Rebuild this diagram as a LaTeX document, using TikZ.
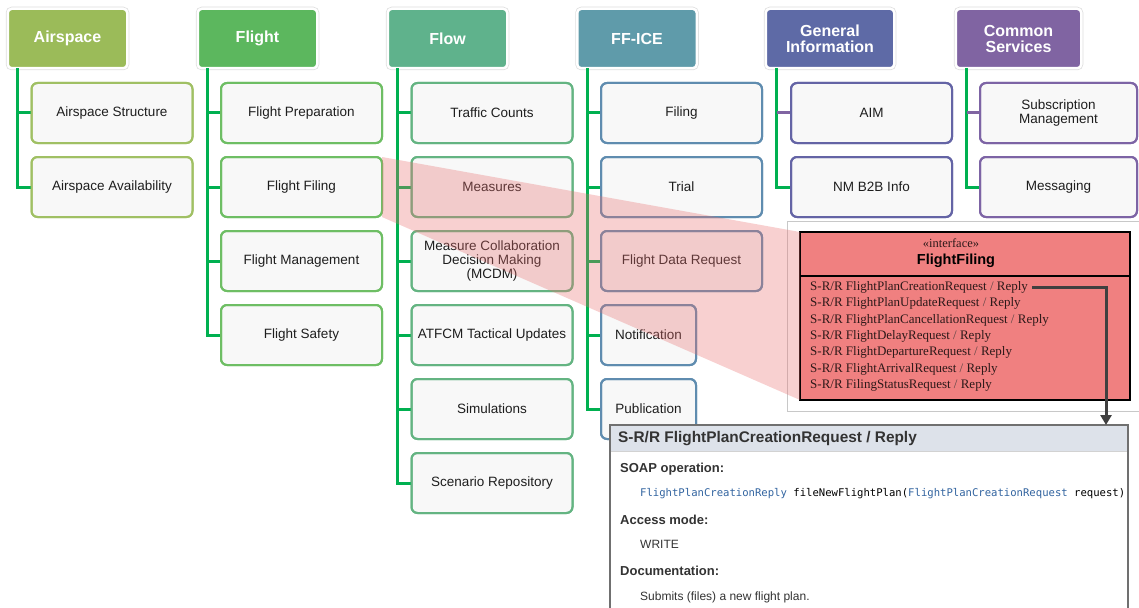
\documentclass[tikz,border=0pt]{standalone}
\usepackage{fontspec}
\setmainfont{Liberation Sans}
\newfontfamily\timesface{Liberation Serif}
\setmonofont{DejaVu Sans Mono}
\usetikzlibrary{arrows.meta}

% header fills
\definecolor{cAir}{RGB}{155,187,89}
\definecolor{cFlt}{RGB}{92,183,94}
\definecolor{cFlw}{RGB}{95,178,140}
\definecolor{cFfi}{RGB}{95,155,170}
\definecolor{cGen}{RGB}{94,106,166}
\definecolor{cCom}{RGB}{128,100,162}
% child borders
\definecolor{bAir}{RGB}{160,192,100}
\definecolor{bFlt}{RGB}{110,190,100}
\definecolor{bFlw}{RGB}{100,180,130}
\definecolor{bFfi}{RGB}{95,140,175}
\definecolor{bGen}{RGB}{100,100,165}
\definecolor{bCom}{RGB}{125,100,165}
\definecolor{boxfill}{RGB}{248,248,248}
\definecolor{haloc}{RGB}{222,222,222}
\definecolor{lineg}{RGB}{0,176,80}
\definecolor{linep}{RGB}{128,100,162}
\definecolor{txt}{RGB}{30,30,30}
\definecolor{pinkov}{RGB}{232,110,110}
\definecolor{ifacefill}{RGB}{240,128,128}
\definecolor{optext}{RGB}{45,25,25}
\definecolor{slashc}{RGB}{95,70,70}
\definecolor{framec}{RGB}{200,200,200}
\definecolor{panelc}{RGB}{112,112,112}
\definecolor{headc}{RGB}{221,226,234}
\definecolor{ptext}{RGB}{51,51,51}
\definecolor{codeblue}{RGB}{50,100,160}
\definecolor{arrowc}{RGB}{64,64,64}

\begin{document}
\begin{tikzpicture}[x=1pt,y=-1pt,
  hdr/.style={fill=#1, text=white, font=\fontsize{16}{16}\selectfont\bfseries,
    align=center, rounded corners=4pt, minimum width=119.5pt, minimum height=59.5pt,
    inner sep=0pt, outer sep=0pt, draw=white, line width=2.5pt,
    preaction={draw=haloc, line width=4pt}},
  child/.style={draw=#1, fill=boxfill, line width=2pt, rounded corners=6pt,
    minimum width=161pt, minimum height=60pt, inner sep=2pt, outer sep=0pt,
    align=center, font=\fontsize{13.5}{14}\selectfont, text=txt},
  conn/.style={draw=lineg, line width=3pt},
  connp/.style={draw=linep, line width=3pt},
  opline/.style={anchor=west, inner sep=0pt, font=\timesface\fontsize{13}{13}\selectfont, text=optext},
  plabel/.style={anchor=west, inner sep=0pt, text=ptext, font=\fontsize{13}{13}\selectfont\bfseries},
  pbody/.style={anchor=west, inner sep=0pt, text=ptext, font=\fontsize{12}{12}\selectfont},
]
\useasboundingbox (0,0) rectangle (1139,607);
\clip (0,0) rectangle (1139,607);

% ---------- column headers ----------
\node[hdr=cAir] (air) at (67.5,38.5) {Airspace};
\node[hdr=cFlt] (flt) at (257.5,38.5) {Flight};
\node[hdr=cFlw] (flw) at (447.5,38.5) {Flow};
\node[hdr=cFfi] (ffi) at (637,38.5) {FF-ICE};
\node[hdr=cGen, minimum width=128.5pt] (gen) at (830,38.5) {General\\Information};
\node[hdr=cCom, minimum width=125.5pt] (com) at (1018.5,38.5) {Common\\Services};

% ---------- tree connectors ----------
\coordinate (airx) at ([xshift=10pt]air.south west);
\coordinate (fltx) at ([xshift=10pt]flt.south west);
\coordinate (flwx) at ([xshift=10pt]flw.south west);
\coordinate (ffix) at ([xshift=10pt]ffi.south west);
\coordinate (genx) at ([xshift=11pt]gen.south west);
\coordinate (comx) at ([xshift=11pt]com.south west);

% child boxes
\node[child=bAir] (air1) at (112,113) {Airspace Structure};
\node[child=bAir] (air2) at (112,187) {Airspace Availability};

\node[child=bFlt] (fl1) at (301.5,113) {Flight Preparation};
\node[child=bFlt] (fl2) at (301.5,187) {Flight Filing};
\node[child=bFlt] (fl3) at (301.5,261) {Flight Management};
\node[child=bFlt] (fl4) at (301.5,335) {Flight Safety};

\node[child=bFlw] (fw1) at (492,113) {Traffic Counts};
\node[child=bFlw] (fw2) at (492,187) {Measures};
\node[child=bFlw] (fw3) at (492,261) {Measure Collaboration\\Decision Making\\(MCDM)};
\node[child=bFlw] (fw4) at (492,335) {ATFCM Tactical Updates};
\node[child=bFlw] (fw5) at (492,409) {Simulations};
\node[child=bFlw] (fw6) at (492,483) {Scenario Repository};

\node[child=bFfi] (ff1) at (681.5,113) {Filing};
\node[child=bFfi] (ff2) at (681.5,187) {Trial};
\node[child=bFfi] (ff3) at (681.5,261) {Flight Data Request};
\node[child=bFfi, minimum width=95pt] (ff4) at (648.5,335) {Notification};
\node[child=bFfi, minimum width=95pt] (ff5) at (648.5,409) {Publication};

\node[child=bGen] (gi1) at (871.5,113) {AIM};
\node[child=bGen] (gi2) at (871.5,187) {NM B2B Info};

\node[child=bCom, minimum width=157pt] (cs1) at (1058.5,113) {Subscription\\Management};
\node[child=bCom, minimum width=157pt] (cs2) at (1058.5,187) {Messaging};

\draw[conn] (airx) |- (air2.west);
\draw[conn] (airx |- air1.west) -- (air1.west);

\draw[conn] (fltx) |- (fl4.west);
\foreach \c in {fl1,fl2,fl3} \draw[conn] (fltx |- \c.west) -- (\c.west);

\draw[conn] (flwx) |- (fw6.west);
\foreach \c in {fw1,fw2,fw3,fw4,fw5} \draw[conn] (flwx |- \c.west) -- (\c.west);

\draw[conn] (ffix) |- (ff5.west);
\foreach \c in {ff1,ff2,ff3,ff4} \draw[conn] (ffix |- \c.west) -- (\c.west);

\draw[conn] (genx) |- (gi2.west);
\draw[connp] (genx |- gi1.west) -- (gi1.west);

\draw[conn] (comx) |- (cs2.west);
\draw[connp] (comx |- cs1.west) -- (cs1.west);

% redraw the box outlines over the connector ends
\foreach \c/\col in {air1/bAir,air2/bAir,fl1/bFlt,fl2/bFlt,fl3/bFlt,fl4/bFlt,
  fw1/bFlw,fw2/bFlw,fw3/bFlw,fw4/bFlw,fw5/bFlw,fw6/bFlw,ff1/bFfi,ff2/bFfi,ff3/bFfi,
  ff4/bFfi,ff5/bFfi,gi1/bGen,gi2/bGen,cs1/bCom,cs2/bCom}
  \draw[draw=\col, line width=2pt, rounded corners=6pt]
    (\c.south west) rectangle (\c.north east);

% ---------- interface frame ----------
\node[draw=framec, fill=white, line width=0.8pt, minimum width=360pt, minimum height=190pt,
  anchor=north west, inner sep=0pt, outer sep=0pt] (frame) at (787,221) {};

\node[draw=black, fill=ifacefill, line width=1.5pt, minimum width=330pt, minimum height=168pt,
  anchor=north west, inner sep=0pt, outer sep=0pt] (iface) at (800,232) {};

% projection from Flight Filing to its interface
\fill[pinkov, opacity=0.32] (fl2.north east) -- (iface.north west)
  -- (iface.south west) -- (fl2.south east) -- cycle;

\draw[black, line width=1.5pt] ([yshift=-44pt]iface.north west) -- ([yshift=-44pt]iface.north east);
\node[inner sep=0pt, text=optext, font=\timesface\fontsize{12.5}{13}\selectfont] (stereo) at (951,243) {«interface»};
\node[inner sep=0pt, text=black, font=\fontsize{14.5}{15}\selectfont\bfseries] (ifname) at (956,261) {FlightFiling};

\node[opline] (op1) at (810,287) {S-R/R FlightPlanCreationRequest {\color{slashc}/} Reply};
\node[opline] (op2) at (810,303.5) {S-R/R FlightPlanUpdateRequest {\color{slashc}/} Reply};
\node[opline] (op3) at (810,320) {S-R/R FlightPlanCancellationRequest {\color{slashc}/} Reply};
\node[opline] (op4) at (810,336.5) {S-R/R FlightDelayRequest {\color{slashc}/} Reply};
\node[opline] (op5) at (810,352.5) {S-R/R FlightDepartureRequest {\color{slashc}/} Reply};
\node[opline] (op6) at (810,369) {S-R/R FlightArrivalRequest {\color{slashc}/} Reply};
\node[opline] (op7) at (810,385) {S-R/R FilingStatusRequest {\color{slashc}/} Reply};

% ---------- operation detail panel ----------
\node[draw=panelc, fill=white, line width=1.8pt, minimum width=518pt, minimum height=200pt,
  anchor=north west, inner sep=0pt, outer sep=0pt] (panel) at (610,425) {};
\fill[headc] ([xshift=0.9pt,yshift=-0.9pt]panel.north west) rectangle ([xshift=-0.9pt,yshift=-26pt]panel.north east);
\draw[gray!35, line width=0.6pt] ([xshift=0.9pt,yshift=-26pt]panel.north west) -- ([xshift=-0.9pt,yshift=-26pt]panel.north east);

\node[anchor=west, inner sep=0pt, text=ptext, font=\fontsize{15.4}{16}\selectfont\bfseries] (ptitle) at (618,438.5) {S-R/R FlightPlanCreationRequest / Reply};
\node[plabel] (soap) at (620,469) {SOAP operation:};
\node[anchor=west, inner sep=0pt, font=\ttfamily\fontsize{10.6}{12}\selectfont] (code) at (640,494)
  {\color{codeblue}FlightPlanCreationReply \color{black}fileNewFlightPlan(\color{codeblue}FlightPlanCreationRequest \color{black}request)};
\node[plabel] (access) at (620,520) {Access mode:};
\node[pbody] (write) at (640,544) {WRITE};
\node[plabel] (docs) at (620,571) {Documentation:};
\node[pbody] (docbody) at (640,597) {Submits (files) a new flight plan.};

% link from the selected operation to its details
\coordinate (turn) at (1106,287);
\draw[arrowc, line width=3pt, -{Triangle[length=10pt,width=11pt]}]
  ([xshift=4pt]op1.east) -- (op1.east -| turn) -- (turn |- panel.north);

\end{tikzpicture}
\end{document}
